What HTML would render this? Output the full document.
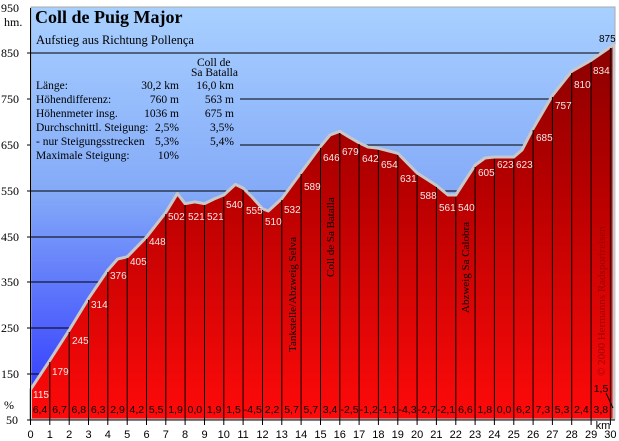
<!DOCTYPE html>
<html><head><meta charset="utf-8"><style>
html,body{margin:0;padding:0;background:#fff;}
svg{display:block;}
.ax{font-family:"Liberation Serif",serif;font-size:12px;fill:#000;}
.km{font-family:"Liberation Sans",sans-serif;font-size:11px;fill:#000;}
.el{font-family:"Liberation Sans",sans-serif;font-size:10px;fill:#f4e8e8;}
.gr{font-family:"Liberation Sans",sans-serif;font-size:10.5px;fill:#000;text-anchor:middle;}
.tb{font-family:"Liberation Serif",serif;font-size:11.5px;fill:#000;}
.rot{font-family:"Liberation Serif",serif;font-size:11px;fill:#000;}
</style></head><body>
<svg width="619" height="441" viewBox="0 0 619 441" xmlns="http://www.w3.org/2000/svg">
<defs>
<linearGradient id="sky" x1="0" y1="0" x2="0" y2="1">
<stop offset="0" stop-color="#a8d0ff"/><stop offset="0.45" stop-color="#84aaf8"/><stop offset="1" stop-color="#2a30ff"/>
</linearGradient>
<linearGradient id="red" gradientUnits="userSpaceOnUse" x1="0" y1="8" x2="0" y2="420">
<stop offset="0" stop-color="#800000"/><stop offset="0.45" stop-color="#b80000"/><stop offset="1" stop-color="#ff0a0a"/>
</linearGradient>
</defs>
<rect x="0" y="0" width="619" height="441" fill="#fff"/>
<rect x="31" y="7" width="584" height="413" fill="url(#sky)"/>
<rect x="31" y="7" width="584" height="413" fill="none" stroke="#aaa" stroke-width="1"/>
<g stroke="#000" stroke-width="1">
<line x1="27" y1="53" x2="615" y2="53"/>
<line x1="240" y1="99" x2="615" y2="99"/>
<line x1="240" y1="145" x2="615" y2="145"/>
<line x1="27" y1="191" x2="615" y2="191"/>
<line x1="27" y1="237" x2="615" y2="237"/>
<line x1="27" y1="282" x2="615" y2="282"/>
<line x1="27" y1="328" x2="615" y2="328"/>
<line x1="27" y1="374" x2="615" y2="374"/>
<line x1="27" y1="99" x2="31" y2="99"/><line x1="27" y1="145" x2="31" y2="145"/>
<line x1="27" y1="420" x2="615" y2="420"/>
</g>
<path id="prof" d="M30.5,389.6 L49.8,360.3 L69.2,330.1 L88.5,298.5 L107.8,270.1 L117.5,259.1 L127.2,256.8 L146.5,237.1 L165.8,212.4 L177.4,193.6 L185.1,203.7 L194.8,201.9 L204.5,203.7 L214,199 L223.8,195 L235.4,184.4 L243.1,188.1 L252,197 L262.5,208.7 L268.3,211 L281.8,198.6 L301.1,172.5 L320.5,146.4 L330,135 L339.8,131.3 L349,137 L359.1,142.8 L368,147 L378.4,148.3 L397.8,153.3 L417.1,173 L436.4,185.4 L448,195 L455.8,195 L475.1,165.2 L485,158 L494.4,157 L513.8,157 L522,150 L533.1,128.6 L552.4,95.6 L571.7,71.3 L591.1,60.3 L610.4,47 L614,45 L614,420 L30.5,420 Z" fill="url(#red)" stroke="#c8c8c8" stroke-width="3" stroke-linejoin="round"/>
<rect x="29" y="419.5" width="587" height="3" fill="#fff"/>
<line x1="27" y1="420" x2="615" y2="420" stroke="#000"/>
<g stroke="#000" stroke-width="1">
<line x1="49.8" y1="362" x2="49.8" y2="425"/><line x1="69.2" y1="332" x2="69.2" y2="425"/><line x1="88.5" y1="300" x2="88.5" y2="425"/><line x1="107.8" y1="272" x2="107.8" y2="425"/><line x1="127.2" y1="258" x2="127.2" y2="425"/><line x1="146.5" y1="239" x2="146.5" y2="425"/><line x1="165.8" y1="214" x2="165.8" y2="425"/><line x1="185.1" y1="205" x2="185.1" y2="425"/><line x1="204.5" y1="205" x2="204.5" y2="425"/><line x1="223.8" y1="197" x2="223.8" y2="425"/><line x1="243.1" y1="190" x2="243.1" y2="425"/><line x1="262.5" y1="210" x2="262.5" y2="425"/><line x1="281.8" y1="200" x2="281.8" y2="425"/><line x1="301.1" y1="174" x2="301.1" y2="425"/><line x1="320.5" y1="148" x2="320.5" y2="425"/><line x1="339.8" y1="133" x2="339.8" y2="425"/><line x1="359.1" y1="144" x2="359.1" y2="425"/><line x1="378.4" y1="150" x2="378.4" y2="425"/><line x1="397.8" y1="155" x2="397.8" y2="425"/><line x1="417.1" y1="175" x2="417.1" y2="425"/><line x1="436.4" y1="187" x2="436.4" y2="425"/><line x1="455.8" y1="197" x2="455.8" y2="425"/><line x1="475.1" y1="167" x2="475.1" y2="425"/><line x1="494.4" y1="159" x2="494.4" y2="425"/><line x1="513.8" y1="159" x2="513.8" y2="425"/><line x1="533.1" y1="130" x2="533.1" y2="425"/><line x1="552.4" y1="97" x2="552.4" y2="425"/><line x1="571.7" y1="73" x2="571.7" y2="425"/><line x1="591.1" y1="62" x2="591.1" y2="425"/><line x1="610.4" y1="48" x2="610.4" y2="425"/>
<line x1="30.5" y1="8" x2="30.5" y2="425"/>
<line x1="606" y1="393" x2="613" y2="408"/>
</g>
<g class="el">
<text x="33" y="398">115</text><text x="52" y="375">179</text><text x="72" y="344">245</text><text x="91" y="308">314</text><text x="110" y="279">376</text><text x="130" y="265">405</text><text x="149" y="245">448</text><text x="168" y="220">502</text><text x="188" y="220">521</text><text x="207" y="220">521</text><text x="226" y="208">540</text><text x="246" y="214">555</text><text x="265" y="225">510</text><text x="284" y="213">532</text><text x="304" y="190">589</text><text x="323" y="161">646</text><text x="342" y="155">679</text><text x="362" y="162">642</text><text x="381" y="168">654</text><text x="400" y="182">631</text><text x="420" y="199">588</text><text x="439" y="211">561</text><text x="458" y="211">540</text><text x="478" y="176">605</text><text x="497" y="168">623</text><text x="516" y="168">623</text><text x="536" y="141">685</text><text x="555" y="109">757</text><text x="574" y="88">810</text><text x="593" y="74">834</text>
</g>
<text x="599" y="42" class="el" style="fill:#000">875</text>
<g class="gr">
<text x="40" y="413">6,4</text><text x="59.5" y="413">6,7</text><text x="78.8" y="413">6,8</text><text x="98.2" y="413">6,3</text><text x="117.5" y="413">2,9</text><text x="136.8" y="413">4,2</text><text x="156.2" y="413">5,5</text><text x="175.5" y="413">1,9</text><text x="194.8" y="413">0,0</text><text x="214.2" y="413">1,9</text><text x="233.5" y="413">1,5</text><text x="252.8" y="413">-4,5</text><text x="272.1" y="413">2,2</text><text x="291.5" y="413">5,7</text><text x="310.8" y="413">5,7</text><text x="330.1" y="413">3,4</text><text x="349.5" y="413">-2,5</text><text x="368.8" y="413">-1,2</text><text x="388.1" y="413">-1,1</text><text x="407.5" y="413">-4,3</text><text x="426.8" y="413">-2,7</text><text x="446.1" y="413">-2,1</text><text x="465.4" y="413">6,6</text><text x="484.8" y="413">1,8</text><text x="504.1" y="413">0,0</text><text x="523.4" y="413">6,2</text><text x="542.8" y="413">7,3</text><text x="562.1" y="413">5,3</text><text x="581.4" y="413">2,4</text><text x="600.8" y="413">3,8</text><text x="601" y="392">1,5</text>
</g>
<g class="ax">
<text x="1" y="12">950</text><text x="4" y="26">hm.</text><text x="1" y="57">850</text><text x="1" y="103">750</text><text x="1" y="149">650</text><text x="1" y="195">550</text><text x="1" y="241">450</text><text x="1" y="286">350</text><text x="1" y="332">250</text><text x="1" y="378">150</text><text x="4" y="409">%</text><text x="6" y="424">50</text>
</g>
<g class="km" text-anchor="middle">
<text x="30.5" y="438">0</text><text x="49.8" y="438">1</text><text x="69.2" y="438">2</text><text x="88.5" y="438">3</text><text x="107.8" y="438">4</text><text x="127.2" y="438">5</text><text x="146.5" y="438">6</text><text x="165.8" y="438">7</text><text x="185.1" y="438">8</text><text x="204.5" y="438">9</text><text x="223.8" y="438">10</text><text x="243.1" y="438">11</text><text x="262.5" y="438">12</text><text x="281.8" y="438">13</text><text x="301.1" y="438">14</text><text x="320.5" y="438">15</text><text x="339.8" y="438">16</text><text x="359.1" y="438">17</text><text x="378.4" y="438">18</text><text x="397.8" y="438">19</text><text x="417.1" y="438">20</text><text x="436.4" y="438">21</text><text x="455.8" y="438">22</text><text x="475.1" y="438">23</text><text x="494.4" y="438">24</text><text x="513.8" y="438">25</text><text x="533.1" y="438">26</text><text x="552.4" y="438">27</text><text x="571.7" y="438">28</text><text x="591.1" y="438">29</text><text x="610.4" y="438">30</text><text x="603" y="429">km</text>
</g>
<text x="35" y="23" style="font-family:'Liberation Serif',serif;font-size:18px;font-weight:bold">Coll de Puig Major</text>
<text x="36" y="44" class="tb" style="font-size:12.5px">Aufstieg aus Richtung Pollença</text>
<g class="tb">
<text x="197" y="66">Coll de</text><text x="191" y="76">Sa Batalla</text>
<text x="36" y="89">Länge:</text><text x="179" y="89" text-anchor="end">30,2 km</text><text x="234" y="89" text-anchor="end">16,0 km</text>
<text x="36" y="103">Höhendifferenz:</text><text x="179" y="103" text-anchor="end">760 m</text><text x="234" y="103" text-anchor="end">563 m</text>
<text x="36" y="117">Höhenmeter insg.</text><text x="179" y="117" text-anchor="end">1036 m</text><text x="234" y="117" text-anchor="end">675 m</text>
<text x="36" y="131">Durchschnittl. Steigung:</text><text x="179" y="131" text-anchor="end">2,5%</text><text x="234" y="131" text-anchor="end">3,5%</text>
<text x="36" y="145">-  nur Steigungsstrecken</text><text x="179" y="145" text-anchor="end">5,3%</text><text x="234" y="145" text-anchor="end">5,4%</text>
<text x="36" y="159">Maximale Steigung:</text><text x="179" y="159" text-anchor="end">10%</text>
</g>
<g class="rot">
<text transform="translate(296,352) rotate(-90)">Tankstelle/Abzweig Selva</text>
<text transform="translate(334,277) rotate(-90)">Coll de Sa Batalla</text>
<text transform="translate(469,313) rotate(-90)">Abzweig Sa Calobra</text>
<text transform="translate(605,376) rotate(-90)" style="fill:#a00000">© 2000 Hermanns Radsportreisen</text>
</g>
</svg>
</body></html>
